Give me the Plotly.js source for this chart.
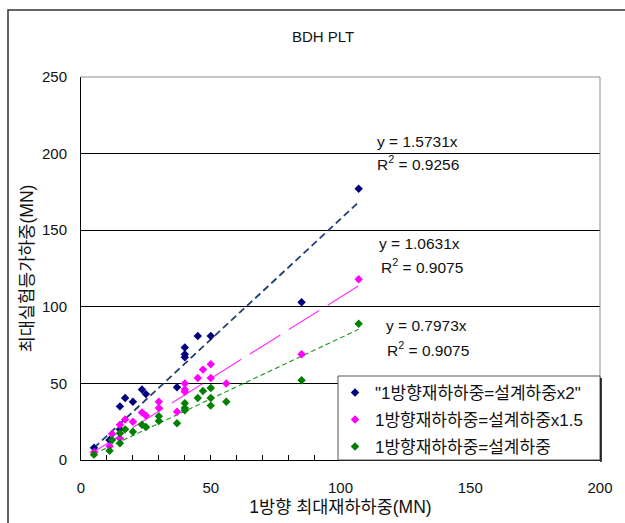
<!DOCTYPE html>
<html>
<head>
<meta charset="utf-8">
<script src="https://cdn.plot.ly/plotly-3.0.1.min.js"></script>
<style>html,body{margin:0;padding:0;background:#fff;}#chart{width:625px;height:523px;}</style>
</head>
<body>
<div id="chart"></div>
<script>
// ---- data ----
var seriesNames = ['"1방향재하하중=설계하중x2"', '1방향재하하중=설계하중x1.5', '1방향재하하중=설계하중'];

var blueX = [107, 85, 45, 50, 40, 40, 40, 37, 23.5, 25, 20, 17, 15, 15, 11, 5];
var blueY = [177, 103, 81, 81, 73.5, 69, 67, 47.5, 46, 43, 38, 40.5, 35, 20, 13, 8];

var magentaX = [107, 85, 50, 47, 45, 50, 56, 40, 40, 40, 37, 30, 30, 23.5, 25, 20, 17, 15, 15, 12, 11, 5];
var magentaY = [118, 69, 62.5, 59, 53.5, 53.5, 50, 50, 46, 44.5, 31.5, 38, 34, 31, 29, 25, 26.5, 23, 14, 17, 9, 5];

var greenX = [107, 85, 50, 47, 45, 50, 50, 56, 40, 40, 40, 37, 30, 30, 23.5, 25, 20, 17, 15, 15, 12, 11, 5];
var greenY = [89, 52, 47, 45, 40.5, 40.5, 35.5, 38, 37, 34, 32.5, 24, 28.5, 25.5, 23, 21.5, 18.5, 20, 17.5, 11, 13, 6, 3.5];

// trendlines y = slope * x (through origin), fitted range of x
var slopes = [1.5731, 1.0631, 0.7973];
var r2Values = ['0.9256', '0.9075', '0.9075'];
var trendRange = [5, 107];

var xTickVals = [0, 50, 100, 150, 200];
var yTickVals = [0, 50, 100, 150, 200, 250];

// ---- styles ----
var colors = ['#000080', '#FF00FF', '#008000'];
var lineColors = ['#1F3F6E', '#FF33FF', '#2E9A2E'];
var dashes = ['7px,4px', '36px,10px', '5px,3px'];
var lineWidths = [1.8, 1.2, 1.2];
var FONT = 'Liberation Sans, Arial, Noto Sans CJK KR, sans-serif';
var TXT = '#111';
var PX = function (p) { return (p - 81) / 519; };
var PY = function (p) { return (460 - p) / 383; };

var xs = [blueX, magentaX, greenX];
var ys = [blueY, magentaY, greenY];
var legendIds = ['legend', 'legend2', 'legend3'];

var traces = [];
for (var i = 0; i < 3; i++) {
  traces.push({
    x: trendRange,
    y: trendRange.map(function (v) { return v * slopes[i]; }),
    mode: 'lines', type: 'scatter', showlegend: false, hoverinfo: 'skip',
    line: {color: lineColors[i], width: lineWidths[i], dash: dashes[i]}
  });
}
for (var j = 0; j < 3; j++) {
  traces.push({
    x: xs[j], y: ys[j], name: seriesNames[j],
    mode: 'markers', type: 'scatter', legend: legendIds[j],
    marker: {symbol: 'diamond', size: 6.5, color: colors[j], line: {width: 0}}
  });
}

var rowY = [393, 420, 447];
function legendCfg(k) {
  return {
    x: PX(335), xanchor: 'left', y: PY(rowY[k]), yanchor: 'middle',
    bgcolor: 'rgba(0,0,0,0)', borderwidth: 0,
    font: {family: FONT, size: 17, color: TXT}
  };
}

var annotations = [];
var annPos = [[129.6, 207.8, 130.0, 193.7], [130.6, 141.0, 131.4, 126.8], [133.1, 87.7, 133.8, 72.6]];
for (var a = 0; a < 3; a++) {
  annotations.push({x: annPos[a][0], y: annPos[a][1], xref: 'x', yref: 'y',
    text: 'y = ' + slopes[a].toFixed(4) + 'x', showarrow: false,
    font: {family: FONT, size: 15.5, color: TXT}, xanchor: 'center', yanchor: 'middle'});
  annotations.push({x: annPos[a][2], y: annPos[a][3], xref: 'x', yref: 'y',
    text: 'R<sup>2</sup> = ' + r2Values[a], showarrow: false,
    font: {family: FONT, size: 15.5, color: TXT}, xanchor: 'center', yanchor: 'middle'});
}

var shapes = [
  // outer chart border
  {type: 'rect', xref: 'paper', yref: 'paper', x0: PX(8), x1: PX(640), y0: PY(540), y1: PY(10),
   line: {color: '#333', width: 1.5}, fillcolor: 'rgba(0,0,0,0)', layer: 'below'},
  // plot area top and right (gray)
  {type: 'line', xref: 'paper', yref: 'paper', x0: 0, x1: 1, y0: 1, y1: 1, line: {color: '#8c8c8c', width: 1}, layer: 'above'},
  {type: 'line', xref: 'paper', yref: 'paper', x0: 1, x1: 1, y0: 0, y1: 1, line: {color: '#8c8c8c', width: 1}, layer: 'above'},
  // legend box
  {type: 'rect', xref: 'paper', yref: 'paper', x0: PX(338), x1: PX(600), y0: PY(460), y1: PY(376),
   line: {color: '#555', width: 1}, fillcolor: '#fff', layer: 'above'},
  {type: 'line', xref: 'paper', yref: 'paper', x0: PX(601), x1: PX(601), y0: PY(462), y1: PY(378),
   line: {color: '#000', width: 1.5}, layer: 'above'}
];

var layout = {
  width: 625, height: 523,
  margin: {l: 81, r: 25, t: 77, b: 63, pad: 0},
  paper_bgcolor: '#fff', plot_bgcolor: '#fff',
  font: {family: FONT, size: 15, color: TXT},
  title: {text: 'BDH PLT', font: {family: FONT, size: 15, color: TXT},
          x: 323 / 625, xref: 'container', xanchor: 'center', y: 1 - 37 / 523, yref: 'container', yanchor: 'middle'},
  xaxis: {
    range: [0, 200], tickvals: xTickVals, ticktext: xTickVals.map(String),
    ticks: 'inside', ticklen: 5, tickcolor: '#000', tickwidth: 1,
    minor: {dtick: 10, tick0: 0, ticks: 'inside', ticklen: 5, tickcolor: '#000', tickwidth: 1, showgrid: false},
    showgrid: false, zeroline: false, showline: true, linecolor: '#000', linewidth: 1,
    ticklabelstandoff: 14, tickfont: {family: FONT, size: 15, color: TXT},
    title: {text: '1방향 최대재하하중(MN)', font: {family: FONT, size: 17.5, color: TXT}, standoff: 5},
    automargin: false, fixedrange: true
  },
  yaxis: {
    range: [0, 250], tickvals: yTickVals, ticktext: yTickVals.map(String),
    ticks: 'inside', ticklen: 6, tickcolor: '#000', tickwidth: 1,
    showgrid: true, gridcolor: '#000', gridwidth: 1,
    zeroline: false, showline: true, linecolor: '#000', linewidth: 1,
    ticklabelstandoff: 10, tickfont: {family: FONT, size: 15, color: TXT},
    title: {text: '최대실험등가하중(MN)', font: {family: FONT, size: 17.5, color: TXT}, standoff: 3},
    automargin: false, fixedrange: true
  },
  legend: legendCfg(0), legend2: legendCfg(1), legend3: legendCfg(2),
  annotations: annotations,
  shapes: shapes,
  showlegend: true
};

Plotly.newPlot('chart', traces, layout, {staticPlot: true, displayModeBar: false});
</script>
</body>
</html>
